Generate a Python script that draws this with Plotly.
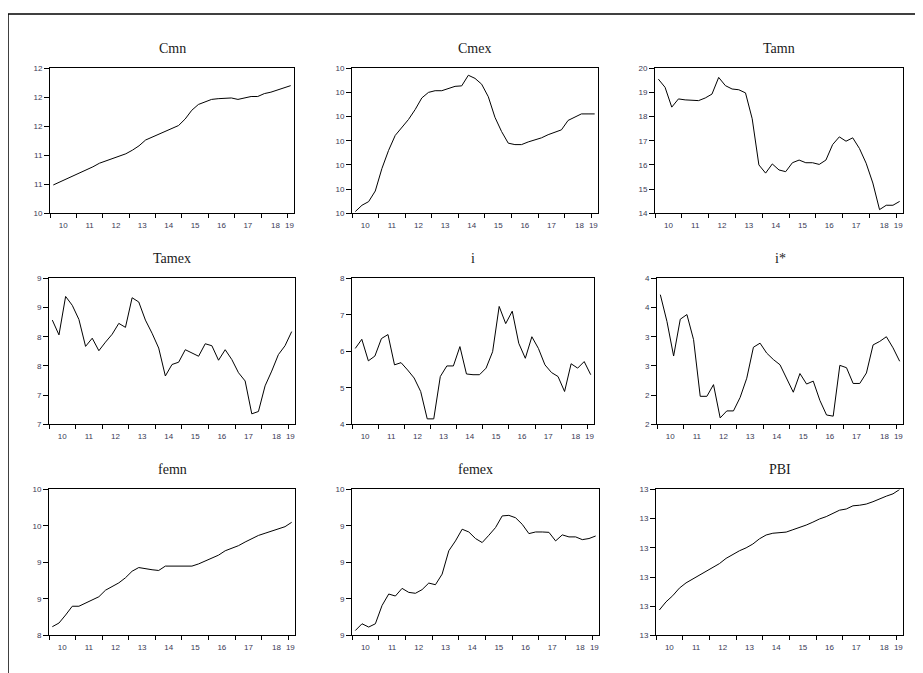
import plotly.graph_objects as go

# ---- data (quarterly, 2010Q1 - 2019Q1) ----
quarters = list(range(37))
year_labels = ["10", "11", "12", "13", "14", "15", "16", "17", "18", "19"]
year_label_pos = [1.5, 5.5, 9.5, 13.5, 17.5, 21.5, 25.5, 29.5, 33.7, 35.8]
year_bounds = [-0.5, 3.5, 7.5, 11.5, 15.5, 19.5, 23.5, 27.5, 31.5, 35.5]

titles = ["Cmn", "Cmex", "Tamn", "Tamex", "i", "i*", "femn", "femex", "PBI"]

cmn = [10.79, 10.83, 10.87, 10.92, 10.96, 11.00, 11.04, 11.09, 11.12, 11.16, 11.19, 11.22,
       11.27, 11.33, 11.41, 11.45, 11.50, 11.54, 11.58, 11.61, 11.70, 11.82, 11.90, 11.93,
       11.97, 11.98, 11.98, 11.99, 11.97, 11.99, 12.01, 12.01, 12.05, 12.07, 12.10, 12.13, 12.16]
cmex = [9.707, 9.733, 9.748, 9.792, 9.885, 9.960, 10.022, 10.056, 10.088, 10.129, 10.177, 10.200,
        10.207, 10.207, 10.216, 10.225, 10.227, 10.271, 10.258, 10.234, 10.182, 10.097, 10.038, 9.990,
        9.984, 9.984, 9.995, 10.004, 10.012, 10.025, 10.036, 10.045, 10.084, 10.097, 10.111, 10.111, 10.111]
tamn = [19.55, 19.21, 18.39, 18.73, 18.69, 18.66, 18.66, 18.77, 18.93, 19.62, 19.28, 19.14,
        19.11, 18.98, 17.91, 16.00, 15.66, 16.04, 15.79, 15.72, 16.09, 16.20, 16.09, 16.09,
        16.02, 16.20, 16.84, 17.16, 16.98, 17.12, 16.68, 16.07, 15.25, 14.15, 14.33, 14.33, 14.49]
tamex = [8.285, 8.032, 8.690, 8.538, 8.296, 7.835, 7.975, 7.761, 7.908, 8.043, 8.229, 8.161,
         8.668, 8.595, 8.285, 8.060, 7.806, 7.328, 7.525, 7.564, 7.778, 7.722, 7.666, 7.880,
         7.846, 7.598, 7.778, 7.609, 7.384, 7.243, 6.680, 6.720, 7.159, 7.412, 7.694, 7.846, 8.088]
i_rate = [6.08, 6.33, 5.74, 5.87, 6.35, 6.46, 5.63, 5.69, 5.49, 5.27, 4.90, 4.15,
          4.15, 5.31, 5.60, 5.60, 6.13, 5.38, 5.36, 5.36, 5.54, 5.99, 7.23, 6.76,
          7.10, 6.22, 5.81, 6.40, 6.08, 5.63, 5.42, 5.31, 4.90, 5.66, 5.54, 5.72, 5.36]
i_star = [3.72, 3.26, 2.67, 3.30, 3.38, 2.95, 1.98, 1.98, 2.18, 1.61, 1.73, 1.73,
          1.96, 2.29, 2.82, 2.89, 2.72, 2.61, 2.52, 2.27, 2.05, 2.37, 2.19, 2.24,
          1.91, 1.66, 1.64, 2.51, 2.47, 2.20, 2.20, 2.38, 2.86, 2.92, 3.00, 2.81, 2.58]
femn = [8.12, 8.17, 8.28, 8.40, 8.40, 8.44, 8.49, 8.53, 8.62, 8.67, 8.72, 8.79,
        8.88, 8.93, 8.91, 8.90, 8.89, 8.95, 8.95, 8.95, 8.95, 8.95, 8.98, 9.02,
        9.05, 9.10, 9.16, 9.19, 9.23, 9.28, 9.33, 9.37, 9.40, 9.43, 9.46, 9.49, 9.55]
femex = [8.727, 8.764, 8.746, 8.764, 8.864, 8.927, 8.916, 8.958, 8.936, 8.931, 8.951, 8.987,
         8.978, 9.036, 9.164, 9.218, 9.282, 9.267, 9.231, 9.209, 9.249, 9.291, 9.355, 9.358,
         9.345, 9.309, 9.258, 9.267, 9.267, 9.265, 9.218, 9.251, 9.240, 9.240, 9.225, 9.231, 9.245]
pbi = [12.887, 12.915, 12.936, 12.962, 12.980, 12.993, 13.006, 13.021, 13.033, 13.046, 13.064, 13.078,
       13.090, 13.100, 13.113, 13.131, 13.144, 13.150, 13.153, 13.154, 13.162, 13.169, 13.178, 13.188,
       13.199, 13.207, 13.219, 13.229, 13.233, 13.244, 13.246, 13.250, 13.258, 13.268, 13.277, 13.285, 13.300]

y_tickvals = [
    [10.4, 10.8, 11.2, 11.6, 12.0, 12.4],
    [9.7, 9.8, 9.9, 10.0, 10.1, 10.2, 10.3],
    [14, 15, 16, 17, 18, 19, 20],
    [6.5, 7.0, 7.5, 8.0, 8.5, 9.0],
    [4, 5, 6, 7, 8],
    [1.5, 2.0, 2.5, 3.0, 3.5, 4.0],
    [8.0, 8.5, 9.0, 9.5, 10.0],
    [8.7, 8.9, 9.1, 9.3, 9.5],
    [12.8, 12.9, 13.0, 13.1, 13.2, 13.3],
]
y_ticktext = [
    ["10", "11", "11", "12", "12", "12"],
    ["10", "10", "10", "10", "10", "10", "10"],
    ["14", "15", "16", "17", "18", "19", "20"],
    ["7", "7", "8", "8", "9", "9"],
    ["4", "5", "6", "7", "8"],
    ["2", "2", "3", "3", "4", "4"],
    ["8", "9", "9", "10", "10"],
    ["9", "9", "9", "9", "10"],
    ["13", "13", "13", "13", "13", "13"],
]

series = [cmn, cmex, tamn, tamex, i_rate, i_star, femn, femex, pbi]

# ---- layout geometry (window pixels; page body adds an 8px offset) ----
OFF = 8
W, H = 923 - OFF, 673 - OFF
boxes_x = [(50, 294), (352, 598), (655, 903),
           (49, 295), (352, 594), (657, 903),
           (49, 295), (352, 599), (656, 903)]
rows_y = [(65, 212), (278, 426), (492, 640)]


def px(v):
    return (v - OFF) / W


def py(v):
    return 1 - (v - OFF) / H


fig = go.Figure()
layout = dict(
    width=W, height=H,
    margin=dict(l=0, r=0, t=0, b=0),
    paper_bgcolor="white", plot_bgcolor="white",
    showlegend=False,
    font=dict(family="Liberation Sans, Arial, sans-serif", size=8, color="#3a3a50"),
)
annotations = []
tick_font = dict(family="Liberation Sans, Arial, sans-serif", size=8, color="#3a3a55")

for k in range(9):
    n = k + 1
    xa = "x" if n == 1 else f"x{n}"
    ya = "y" if n == 1 else f"y{n}"
    x0, x1 = boxes_x[k]
    r0, r1 = rows_y[k // 3]
    fig.add_trace(go.Scatter(x=quarters, y=series[k], mode="lines",
                             line=dict(color="black", width=1),
                             xaxis=xa, yaxis=ya, hoverinfo="skip"))
    xkey = "xaxis" if n == 1 else f"xaxis{n}"
    ykey = "yaxis" if n == 1 else f"yaxis{n}"
    layout[xkey] = dict(
        domain=[px(x0), px(x1)], anchor=ya, range=[-0.5, 36.5],
        showgrid=False, zeroline=False, showline=True, mirror=True,
        linecolor="black", linewidth=1,
        tickmode="array", tickvals=year_label_pos, ticktext=year_labels,
        ticks="outside", ticklen=4, tickcolor="rgba(0,0,0,0)",
        tickfont=tick_font,
        minor=dict(tickmode="array", tickvals=year_bounds, ticks="outside",
                   ticklen=4, tickcolor="black", tickwidth=1, showgrid=False),
    )
    ylo, yhi = y_tickvals[k][0], y_tickvals[k][-1]
    layout[ykey] = dict(
        domain=[py(r1), py(r0)], anchor=xa, range=[ylo, yhi],
        showgrid=False, zeroline=False, showline=True, mirror=True,
        linecolor="black", linewidth=1,
        tickmode="array", tickvals=y_tickvals[k], ticktext=y_ticktext[k],
        ticks="outside", ticklen=5, tickcolor="black", tickwidth=1,
        tickfont=tick_font,
    )
    annotations.append(dict(
        text=titles[k], xref="paper", yref="paper",
        x=px((x0 + x1) / 2), y=py(r0 - 20),
        xanchor="center", yanchor="middle", showarrow=False,
        font=dict(family="Liberation Serif, Times New Roman, serif", size=14, color="#1a1a1a"),
    ))

layout["annotations"] = annotations
layout["shapes"] = [
    dict(type="line", xref="paper", yref="paper", x0=px(8), x1=1.01, y0=py(10), y1=py(10),
         line=dict(color="black", width=1.5)),
    dict(type="line", xref="paper", yref="paper", x0=px(8), x1=px(8), y0=py(10), y1=-0.02,
         line=dict(color="black", width=1.5)),
]
fig.update_layout(**layout)
fig.write_html("out.html")
